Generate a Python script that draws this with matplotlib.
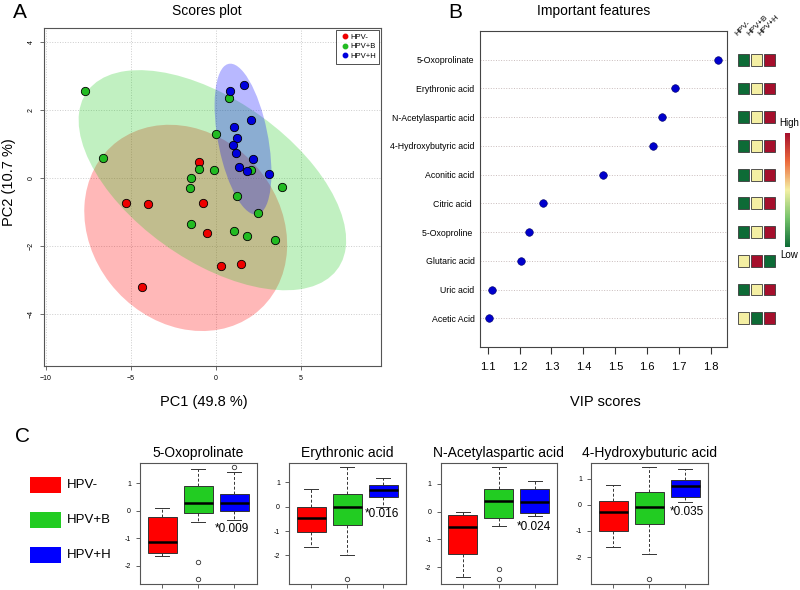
import numpy as np
import matplotlib
matplotlib.use('Agg')
import matplotlib.pyplot as plt
from matplotlib.patches import Ellipse, Rectangle
from matplotlib.lines import Line2D
from matplotlib.colors import LinearSegmentedColormap
import matplotlib.colorbar as mcolorbar

plt.rcParams['font.family'] = ['Liberation Sans', 'DejaVu Sans']

groups = ['HPV-', 'HPV+B', 'HPV+H']
group_colors = ['#FF0000', '#22CC22', '#0000FF']
point_colors = ['#EE0000', '#22BB22', '#0000DD']

# --- A: PCA scores ---
pc1_neg = [-1.00, -5.29, -3.98, -0.78, -0.55, 0.29, 1.45, -4.33]
pc2_neg = [0.47, -0.72, -0.76, -0.73, -1.62, -2.59, -2.52, -3.20]
pc1_b = [-7.71, -6.65, 0.75, 0.00, -1.00, -0.14, -1.49, -1.55, 1.24, 2.08, 3.88, 2.45, -1.47, 1.04, 1.80, 3.47]
pc2_b = [2.57, 0.61, 2.37, 1.29, 0.27, 0.25, 0.00, -0.29, -0.51, 0.23, -0.26, -1.03, -1.34, -1.55, -1.70, -1.81]
pc1_h = [0.80, 1.63, 2.06, 1.04, 1.24, 1.02, 1.18, 2.20, 1.37, 1.84, 3.14]
pc2_h = [2.57, 2.75, 1.72, 1.52, 1.19, 0.97, 0.75, 0.56, 0.32, 0.21, 0.12]
pc1_label = 'PC1 (49.8 %)'
pc2_label = 'PC2 (10.7 %)'

# --- B: VIP scores ---
vip_features = ['5-Oxoprolinate', 'Erythronic acid', 'N-Acetylaspartic acid', '4-Hydroxybutyric acid',
                'Aconitic acid', 'Citric acid ', '5-Oxoproline ', 'Glutaric acid', 'Uric acid', 'Acetic Acid']
vip_scores = [1.823, 1.687, 1.646, 1.619, 1.461, 1.274, 1.231, 1.205, 1.114, 1.105]
# 0 = low, 1 = mid, 2 = high  (columns: HPV-, HPV+B, HPV+H)
heat_levels = [[0, 1, 2], [0, 1, 2], [0, 1, 2], [0, 1, 2], [0, 1, 2],
               [0, 1, 2], [0, 1, 2], [1, 2, 0], [0, 1, 2], [1, 0, 2]]

# --- C: box plots, per group (whislo, q1, med, q3, whishi) ---
box_titles = ['5-Oxoprolinate', 'Erythronic acid', 'N-Acetylaspartic acid', '4-Hydroxybuturic acid']
box_oxoprolinate = [(-1.65, -1.53, -1.15, -0.245, 0.10), (-0.40, -0.07, 0.28, 0.88, 1.51), (-0.32, -0.02, 0.29, 0.60, 1.41)]
fliers_oxoprolinate = [[], [-1.85, -2.48], [1.57]]
box_erythronic = [(-1.65, -1.04, -0.46, 0.00, 0.71), (-1.99, -0.75, -0.03, 0.51, 1.61), (0.00, 0.39, 0.67, 0.89, 1.17)]
fliers_erythronic = [[], [-2.97], []]
box_naa = [(-2.35, -1.52, -0.57, -0.12, -0.02), (-0.51, -0.22, 0.39, 0.82, 1.58), (-0.17, -0.07, 0.34, 0.81, 1.10)]
fliers_naa = [[], [-2.05, -2.42], []]
box_hydroxy = [(-1.61, -0.99, -0.29, 0.14, 0.76), (-1.90, -0.72, -0.09, 0.48, 1.43), (0.10, 0.29, 0.71, 0.94, 1.38)]
fliers_hydroxy = [[], [-2.84], []]
p_values = ['*0.009', '*0.016', '*0.024', '*0.035']

W, H = 800, 590
fig = plt.figure(figsize=(8, 5.9), dpi=100)


def px_axes(x0, y0, x1, y1):
    return fig.add_axes([x0 / W, 1 - y1 / H, (x1 - x0) / W, (y1 - y0) / H])


def conf_ellipse(ax, x, y, color, alpha):
    x = np.asarray(x)
    y = np.asarray(y)
    vals, vecs = np.linalg.eigh(np.cov(x, y))
    order = vals.argsort()[::-1]
    vals, vecs = vals[order], vecs[:, order]
    angle = np.degrees(np.arctan2(vecs[1, 0], vecs[0, 0]))
    k = np.sqrt(5.991)
    ax.add_patch(Ellipse((x.mean(), y.mean()), 2 * k * np.sqrt(vals[0]), 2 * k * np.sqrt(vals[1]),
                         angle=angle, facecolor=color, alpha=alpha, edgecolor='none', zorder=1))


# ---------- A ----------
ax = px_axes(44, 28, 381, 366)
pcs = [(pc1_neg, pc2_neg), (pc1_b, pc2_b), (pc1_h, pc2_h)]
for (x, y), c in zip(pcs, group_colors):
    conf_ellipse(ax, x, y, c, 0.28)
for (x, y), c in zip(pcs, point_colors):
    ax.scatter(x, y, s=36, color=c, edgecolor='black', linewidth=0.6, zorder=3)
ax.set_xlim(-10.1, 9.7)
ax.set_ylim(-5.52, 4.42)
ax.set_xticks([-10, -5, 0, 5])
ax.set_yticks([-4, -2, 0, 2, 4])
ax.grid(True, linestyle=':', color='#cccccc', linewidth=0.7)
ax.set_axisbelow(True)
ax.tick_params(labelsize=5, length=3, color='#555555', width=0.6)
for lab in ax.get_yticklabels():
    lab.set_rotation(90)
    lab.set_va('center')
for s in ax.spines.values():
    s.set_color('#555555')
    s.set_linewidth(0.8)
handles = [Line2D([], [], marker='o', linestyle='none', color=c, markersize=3.2) for c in point_colors]
leg = ax.legend(handles, groups, loc='upper right', fontsize=5.5, frameon=True, fancybox=False,
                borderaxespad=0.2, handletextpad=0.1, labelspacing=0.3, borderpad=0.5, handlelength=1.2)
leg.get_frame().set_edgecolor('black')
leg.get_frame().set_linewidth(0.6)

# ---------- B ----------
n = len(vip_features)
rows = np.arange(n, 0, -1)
bx = px_axes(480, 31, 727, 347)
for r in rows:
    bx.axhline(r, color='#c9bcbc', linestyle=':', linewidth=0.7, zorder=1)
bx.scatter(vip_scores, rows, s=30, color='#0000CC', edgecolor='#000066', linewidth=0.4, zorder=3)
bx.set_ylim(0, n + 1)
bx.set_xlim(1.076, 1.85)
bx.set_xticks([1.1, 1.2, 1.3, 1.4, 1.5, 1.6, 1.7, 1.8])
bx.set_yticks(rows)
bx.set_yticklabels(vip_features, fontsize=6.3)
bx.tick_params(axis='y', length=0, pad=4)
bx.tick_params(axis='x', labelsize=8, length=5, pad=6, color='#333333')
for s in bx.spines.values():
    s.set_color('#444444')
    s.set_linewidth(0.8)

cmap = LinearSegmentedColormap.from_list('hm', ['#0d6b36', '#74c26a', '#f4f0a4', '#ec6a3c', '#a50f2c'])
hx = px_axes(737, 31, 775.5, 347)
for i, r in enumerate(rows):
    for j, lev in enumerate(heat_levels[i]):
        hx.add_patch(Rectangle((j + 1 - 0.43, r - 0.205), 0.86, 0.41, facecolor=cmap(lev / 2),
                               edgecolor='#3a3a3a', linewidth=0.6))
hx.set_xlim(0.5, 3.5)
hx.set_ylim(0, n + 1)
hx.axis('off')

cax = px_axes(785, 133, 790.5, 247)
cb = mcolorbar.ColorbarBase(cax, cmap=cmap, orientation='vertical')
cb.set_ticks([])
cb.outline.set_visible(False)

# ---------- C ----------
box_data = [(box_oxoprolinate, fliers_oxoprolinate), (box_erythronic, fliers_erythronic),
            (box_naa, fliers_naa), (box_hydroxy, fliers_hydroxy)]
box_lefts = [140, 289, 440.5, 591]
text_pos = [(2.45, -0.65), (2.5, -0.31), (2.49, -0.54), (2.56, -0.28)]
for k, ((stats5, fl), title) in enumerate(zip(box_data, box_titles)):
    cx = px_axes(box_lefts[k], 463, box_lefts[k] + 116.5, 583.5)
    stats = []
    for (lo, q1, med, q3, hi), f in zip(stats5, fl):
        stats.append(dict(whislo=lo, q1=q1, med=med, q3=q3, whishi=hi, fliers=f))
    bp = cx.bxp(stats, positions=[1, 2, 3], widths=0.8, patch_artist=True, capwidths=0.4,
                boxprops=dict(linewidth=0.7, edgecolor='#333333'),
                medianprops=dict(color='black', linewidth=1.8),
                whiskerprops=dict(color='#333333', linestyle=(0, (3, 2)), linewidth=0.7),
                capprops=dict(color='#333333', linewidth=0.7),
                flierprops=dict(marker='o', markerfacecolor='none', markeredgecolor='#333333',
                                markersize=3.2, markeredgewidth=0.6))
    for patch, c in zip(bp['boxes'], group_colors):
        patch.set_facecolor(c)
    allv = [v for s5, f in zip(stats5, fl) for v in list(s5) + f]
    lo, hi = min(allv), max(allv)
    pad = 0.04 * (hi - lo)
    cx.set_ylim(lo - pad, hi + pad)
    cx.set_xlim(0.38, 3.62)
    cx.set_xticks([1, 2, 3])
    cx.set_xticklabels([])
    cx.set_yticks(np.arange(np.ceil(lo), np.floor(hi) + 1))
    cx.yaxis.set_major_formatter(plt.FuncFormatter(lambda v, p: '%d' % v))
    cx.tick_params(labelsize=5, length=3, width=0.6, color='#444444')
    cx.set_title(title, fontsize=10, pad=4)
    for s in cx.spines.values():
        s.set_color('#555555')
        s.set_linewidth(0.8)
    tx, ty = text_pos[k]
    cx.text(tx, ty, p_values[k], fontsize=8.5, ha='left', va='center')

# ---------- overlay text ----------
ov = fig.add_axes([0, 0, 1, 1])
ov.set_xlim(0, W)
ov.set_ylim(H, 0)
ov.axis('off')
ov.text(20, 13, 'A', fontsize=15, ha='center', va='center')
ov.text(455, 13, 'B', fontsize=15, ha='center', va='center')
ov.text(22, 436, 'C', fontsize=15, ha='center', va='center')
ov.text(207, 11, 'Scores plot', fontsize=10, ha='center', va='center')
ov.text(594, 11, 'Important features', fontsize=10, ha='center', va='center')
ov.text(204, 402, pc1_label, fontsize=10.5, ha='center', va='center')
ov.text(9, 182, pc2_label, fontsize=10.5, ha='center', va='center', rotation=90)
ov.text(605, 402, 'VIP scores', fontsize=10.5, ha='center', va='center')
ov.text(779, 123, 'High', fontsize=7, ha='left', va='center')
ov.text(780, 255, 'Low', fontsize=7, ha='left', va='center')
for x0, g in zip([739, 750.5, 762], groups):
    ov.text(x0, 37, g, fontsize=5.8, rotation=45, rotation_mode='anchor', ha='left', va='bottom')
leg_y = [485, 520, 555]
for y0, g, c in zip(leg_y, groups, group_colors):
    ov.add_patch(Rectangle((29.5, y0 - 8), 31, 16, facecolor=c, edgecolor='none'))
    ov.text(67, y0, g, fontsize=9.5, ha='left', va='center')

fig.savefig('out.png', dpi=100)
